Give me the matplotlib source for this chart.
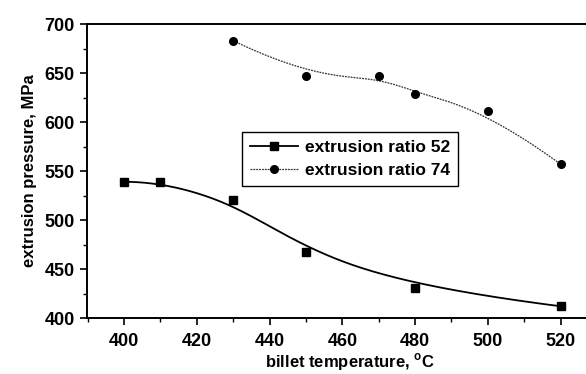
import numpy as np
import matplotlib
matplotlib.use("Agg")
import matplotlib.pyplot as plt
from matplotlib.ticker import MultipleLocator

plt.rcParams['font.family'] = ['Liberation Sans', 'DejaVu Sans']

# ===== data =====
temp_52 = [400, 410, 430, 450, 480, 520]
pres_52 = [539, 539, 520, 467, 431, 412]
temp_74 = [430, 450, 470, 480, 500, 520]
pres_74 = [683, 647, 647, 629, 611, 557]

label_52 = "extrusion ratio 52"
label_74 = "extrusion ratio 74"


def bspline_curve(px, py, k=3, num=300):
    # clamped cubic B-spline using the data points as control points
    # (Origin style "B-Spline" connect)
    P = np.column_stack([px, py]).astype(float)
    n = len(P)
    knots = np.concatenate([np.zeros(k), np.arange(n - k + 1), np.full(k, n - k)]).astype(float)
    t = np.linspace(0, n - k, num)
    t[-1] -= 1e-9

    def basis(i, d, tt):
        if d == 0:
            return ((knots[i] <= tt) & (tt < knots[i + 1])).astype(float)
        out = np.zeros_like(tt)
        den1 = knots[i + d] - knots[i]
        den2 = knots[i + d + 1] - knots[i + 1]
        if den1 > 0:
            out += (tt - knots[i]) / den1 * basis(i, d - 1, tt)
        if den2 > 0:
            out += (knots[i + d + 1] - tt) / den2 * basis(i + 1, d - 1, tt)
        return out

    B = np.column_stack([basis(i, k, t) for i in range(n)])
    C = B @ P
    return C[:, 0], C[:, 1]


xs52, ys52 = bspline_curve(temp_52, pres_52)
xs74, ys74 = bspline_curve(temp_74, pres_74)

fig = plt.figure(figsize=(5.86, 3.74), dpi=100)
ax = fig.add_axes([0.1485, 0.1497, 0.8515, 0.7861])

dotted = (0, (1.5, 0.8))
ax.plot(xs52, ys52, color='black', lw=1.3)
ax.plot(temp_52, pres_52, ls='none', marker='s', ms=5.5, color='black')
ax.plot(xs74, ys74, color='#333333', lw=0.9, ls=dotted)
ax.plot(temp_74, pres_74, ls='none', marker='o', ms=5.5, color='black')

# legend handles
h1, = ax.plot([], [], color='black', lw=1.3, marker='s', ms=5.5)
h2, = ax.plot([], [], color='#333333', lw=0.9, ls=dotted, marker='o', ms=5.5,
              mfc='black', mec='black')
leg = ax.legend([h1, h2], [label_52, label_74], loc='upper left',
                bbox_to_anchor=(0.31, 0.631), fancybox=False, framealpha=1,
                edgecolor='black', fontsize=12.5, handlelength=2.8,
                handletextpad=0.4, borderpad=0.45, labelspacing=0.45,
                borderaxespad=0)
leg.get_frame().set_linewidth(1.0)
for t in leg.get_texts():
    t.set_fontweight('bold')

ax.set_xlim(389.8, 527)
ax.set_ylim(400, 700)
ax.xaxis.set_major_locator(MultipleLocator(20))
ax.xaxis.set_minor_locator(MultipleLocator(10))
ax.yaxis.set_major_locator(MultipleLocator(50))
ax.yaxis.set_minor_locator(MultipleLocator(25))
ax.tick_params(which='major', direction='out', length=5, width=1.2, labelsize=13)
ax.tick_params(axis='x', which='major', pad=6)
ax.tick_params(axis='y', which='major', pad=4)
ax.tick_params(which='minor', direction='out', length=3, width=1.0)
for lab in ax.get_xticklabels() + ax.get_yticklabels():
    lab.set_fontweight('bold')

ax.spines['right'].set_visible(False)
for s in ['left', 'bottom', 'top']:
    ax.spines[s].set_linewidth(1.4)

ax.set_xlabel("billet temperature, $^{\\mathregular{o}}$C", fontsize=12,
              fontweight='bold')
ax.xaxis.set_label_coords(0.527, -0.112)
ax.set_ylabel("extrusion pressure, MPa", fontsize=12, fontweight='bold', labelpad=5)

plt.savefig("out.png", dpi=100)
